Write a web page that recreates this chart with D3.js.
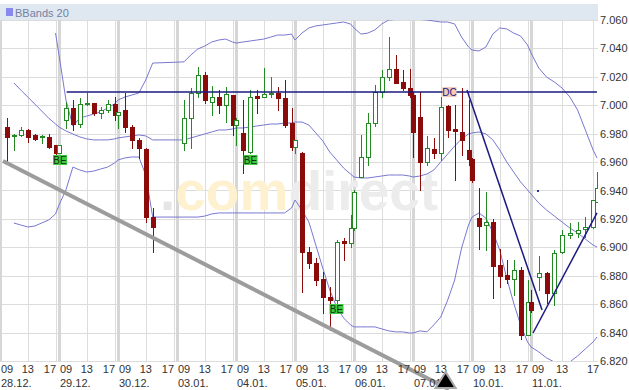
<!DOCTYPE html>
<html>
<head>
<meta charset="utf-8">
<script src="https://cdnjs.cloudflare.com/ajax/libs/d3/7.8.5/d3.min.js"></script>
<style>
  body { margin: 0; background: #fff; }
  svg { display: block; font-family: "Liberation Sans", Arial, sans-serif; }
</style>
</head>
<body>
<svg id="chart"></svg>
<script>
const W = 629, H = 390;

// trading days on the axis, hourly candles (close time), 30.12. closes early
const dayLabels = ["28.12.", "29.12.", "30.12.", "03.01.", "04.01.", "05.01.", "06.01.", "07.01.", "10.01.", "11.01."];
const candlesPerDay = [9, 9, 5, 9, 9, 9, 9, 9, 9, 9];
const sessionHours = [10, 11, 12, 13, 14, 15, 16, 17, 17.5];
const priceTicks = [6.82, 6.84, 6.86, 6.88, 6.90, 6.92, 6.94, 6.96, 6.98, 7.00, 7.02, 7.04, 7.06];

const opens = [
  6.9847, 6.9784, 6.9791, 6.9826, 6.9791, 6.9777, 6.9777, 6.9720, 6.9664,
  6.9896, 6.9981, 6.9868, 7.0009, 7.0016, 6.9946, 6.9967, 7.0009, 6.9932,
  6.9967, 6.9847, 6.9756, 6.9692, 6.9214,
  6.9734, 6.9910, 7.0086, 7.0213, 7.0023, 7.0058, 7.0002, 7.0072, 6.9861,
  6.9805, 6.9671, 7.0065, 7.0058, 7.0079, 7.0086, 7.0051, 6.9875, 6.9706,
  6.9666, 6.8967, 6.8890, 6.8777, 6.8651, 6.8630, 6.9045, 6.9031, 6.9136,
  6.9495, 6.9636, 6.9875, 7.0093, 7.0199, 7.0255, 7.0164, 7.0121, 7.0072,
  6.9917, 6.9601, 6.9692, 6.9664, 6.9995, 6.9833, 6.9812, 6.9685, 6.9622,
  6.9207, 6.9157, 6.9178, 6.8876, 6.8806, 6.8777, 6.8841, 6.8383, 6.8616,
  6.8792, 6.8820, 6.8679, 6.8967, 6.9087, 6.9101, 6.9129, 6.9143, 6.9319
];
const highs = [
  6.9910, 6.9798, 6.9847, 6.9833, 6.9798, 6.9791, 6.9798, 6.9720, 6.9720,
  7.0023, 7.0037, 7.0051, 7.0086, 7.0016, 6.9988, 7.0037, 7.0058, 6.9953,
  7.0086, 6.9861, 6.9770, 6.9699, 6.9277,
  7.0037, 7.0121, 7.0269, 7.0234, 7.0136, 7.0107, 7.0128, 7.0072, 6.9910,
  7.0037, 7.0107, 7.0107, 7.0262, 7.0199, 7.0128, 7.0178, 6.9981, 6.9756,
  6.9671, 6.9003, 6.8925, 6.8827, 6.8721, 6.9052, 6.9066, 6.9228, 6.9404,
  6.9791, 6.9946, 7.0143, 7.0248, 7.0480, 7.0354, 7.0248, 7.0255, 7.0093,
  7.0093, 6.9784, 6.9770, 7.0058, 7.0002, 7.0002, 7.0121, 7.0037, 6.9629,
  6.9418, 6.9390, 6.9200, 6.8989, 6.8911, 6.8911, 6.8862, 6.8770, 6.8700,
  6.8939, 6.8827, 6.8981, 6.9122, 6.9171, 6.9178, 6.9214, 6.9333, 6.9530
];
const lows = [
  6.9594, 6.9685, 6.9784, 6.9742, 6.9756, 6.9735, 6.9699, 6.9636, 6.9664,
  6.9840, 6.9826, 6.9847, 7.0002, 6.9932, 6.9910, 6.9953, 6.9896, 6.9840,
  6.9812, 6.9699, 6.9629, 6.9179, 6.8967,
  6.9685, 6.9699, 7.0058, 7.0016, 6.9932, 6.9946, 6.9882, 6.9791, 6.9720,
  6.9523, 6.9664, 6.9946, 7.0058, 7.0058, 6.9967, 6.9847, 6.9685, 6.9664,
  6.8686, 6.8855, 6.8735, 6.8538, 6.8419, 6.8609, 6.8911, 6.9003, 6.9122,
  6.9495, 6.9580, 6.9854, 7.0058, 7.0178, 7.0157, 7.0107, 7.0058, 6.9636,
  6.9404, 6.9580, 6.9629, 6.9615, 6.9777, 6.9474, 6.9650, 6.9580, 6.9460,
  6.8988, 6.8981, 6.8644, 6.8721, 6.8749, 6.8665, 6.8355, 6.8383, 6.8545,
  6.8700, 6.8609, 6.8594, 6.8960, 6.9066, 6.9073, 6.9073, 6.9136, 6.9319
];
const closes = [
  6.9777, 6.9791, 6.9826, 6.9777, 6.9763, 6.9784, 6.9706, 6.9664, 6.9720,
  6.9981, 6.9868, 7.0009, 7.0016, 6.9946, 6.9967, 7.0009, 6.9932, 6.9953,
  6.9847, 6.9756, 6.9699, 6.9214, 6.9143,
  6.9910, 7.0086, 7.0213, 7.0037, 7.0058, 7.0002, 7.0079, 6.9861, 6.9896,
  6.9685, 7.0058, 7.0051, 7.0079, 7.0086, 7.0051, 6.9861, 6.9706, 6.9756,
  6.8970, 6.8890, 6.8770, 6.8651, 6.8630, 6.9038, 6.9031, 6.9136, 6.9390,
  6.9636, 6.9875, 7.0093, 7.0199, 7.0255, 7.0157, 7.0121, 7.0072, 6.9812,
  6.9601, 6.9699, 6.9664, 6.9988, 6.9826, 6.9819, 6.9756, 6.9622, 6.9474,
  6.9150, 6.9178, 6.8869, 6.8799, 6.8777, 6.8841, 6.8383, 6.8616, 6.8559,
  6.8820, 6.8679, 6.8960, 6.9087, 6.9101, 6.9122, 6.9143, 6.9333, 6.9418
];

// Bollinger bands (20), read per candle; null = not drawn
const bandUpper = [
  null, null, null, null, null, null, null, 7.0508, 7.0354,
  7.0037, 6.9854, 6.9910, 6.9924, 6.9938, 6.9953, 6.9981, 7.0009, 7.0037,
  7.0058, 7.0072, 7.0086, 7.0178, 7.0297,
  7.0305, 7.0354, 7.0396, 7.0417, 7.0445, 7.0459, 7.0466, 7.0445, 7.0438,
  7.0445, 7.0452, 7.0459, 7.0466, 7.0480, 7.0494, 7.0494, 7.0501, 7.0459,
  7.0508, 7.0544, 7.0558, 7.0565, 7.0572, 7.0579, 7.0586, 7.0572, 7.0544,
  7.0501, 7.0508, 7.0530, 7.0572, 7.0600, 7.0604, 7.0604, 7.0604, 7.0604,
  7.0604, 7.0600, 7.0593, 7.0586, 7.0586, 7.0572, 7.0480, 7.0410, 7.0389,
  7.0382, 7.0410, 7.0501, 7.0544, 7.0537, 7.0508, 7.0487, 7.0424, 7.0368,
  7.0262, 7.0199, 7.0164, 7.0121, 7.0058, 6.9967, 6.9826, 6.9685, 6.9629
];
const bandMiddle = [
  null, 7.0157, 7.0107, 7.0058, 7.0009, 6.9960, 6.9910, 6.9868, 6.9847,
  6.9819, 6.9798, 6.9777, 6.9763, 6.9756, 6.9756, 6.9756, 6.9763, 6.9770,
  6.9777, 6.9784, 6.9791, 6.9784, 6.9756,
  6.9756, 6.9770, 6.9784, 6.9798, 6.9812, 6.9826, 6.9826, 6.9833, 6.9840,
  6.9840, 6.9847, 6.9854, 6.9861, 6.9868, 6.9868, 6.9875, 6.9875, 6.9882,
  6.9882, 6.9861, 6.9805, 6.9749, 6.9671, 6.9615, 6.9558, 6.9516, 6.9495,
  6.9488, 6.9488, 6.9495, 6.9502, 6.9509, 6.9509, 6.9509, 6.9502, 6.9495,
  6.9502, 6.9516, 6.9544, 6.9601, 6.9657, 6.9713, 6.9763, 6.9798, 6.9805,
  6.9812, 6.9798, 6.9756, 6.9685, 6.9601, 6.9530, 6.9460, 6.9404, 6.9375,
  6.9312, 6.9263, 6.9220, 6.9178, 6.9136, 6.9101, 6.9058, 6.9016, 6.9002
];
const bandLower = [
  null, 6.9171, 6.9157, 6.9143, 6.9150, 6.9171, 6.9192, 6.9235, 6.9298,
  6.9404, 6.9565, 6.9544, 6.9530, 6.9537, 6.9551, 6.9565, 6.9593, 6.9615,
  6.9629, 6.9636, 6.9636, 6.9509, 6.9213,
  6.9213, 6.9213, 6.9213, 6.9220, 6.9235, 6.9242, 6.9242, 6.9242, 6.9242,
  6.9242, 6.9242, 6.9242, 6.9242, 6.9242, 6.9242, 6.9242, 6.9277, 6.9333,
  6.9263, 6.9178, 6.9016, 6.8854, 6.8700, 6.8580, 6.8503, 6.8454, 6.8440,
  6.8440, 6.8440, 6.8440, 6.8426, 6.8412, 6.8405, 6.8405, 6.8397, 6.8397,
  6.8412, 6.8405, 6.8454, 6.8510, 6.8629, 6.8770, 6.8995, 6.9157, 6.9213,
  6.9242, 6.9206, 6.9108, 6.8981, 6.8784, 6.8608, 6.8454, 6.8334, 6.8299,
  6.8264, 6.8222, 6.8193, 6.8193, 6.8193, 6.8236, 6.8285, 6.8334, 6.8369
];

// drawings: [day, hour, price]
const resistanceLine = [[1, 10.1, 7.0093], [9, 17.5, 7.0093]];
const grayTrend = [[0, 9.43, 6.9608], [7, 14.19, 6.8001]];
const downTrend = [[7, 16.78, 7.0107], [9, 10.42, 6.8559]];
const upTrend = [[9, 9.26, 6.8397], [9, 17.5, 6.9242]];
const signalMarker = [7, 13.7, 6.8060];
const patternLabels = [
  { day: 0, hour: 17.65, price: 6.9615, text: "BE", kind: "be" },
  { day: 4, hour: 11.09, price: 6.9615, text: "BE", kind: "be" },
  { day: 5, hour: 14.98, price: 6.8566, text: "BE", kind: "be" },
  { day: 7, hour: 14.26, price: 7.0093, text: "DC", kind: "dc" }
];

const svg = d3.select("#chart").attr("width", W).attr("height", H);
svg.append("rect").attr("width", W).attr("height", H).attr("fill", "#fff");

const tOf = (d, h) => d * 8.5 + (h - 9);
const x = d3.scaleLinear().domain([0, 76.5, 85]).range([0, 531, 597]);
const y = d3.scaleLinear().domain([6.82, 7.06]).range([361, 20]);
const plotRight = 598, plotTop = 4, plotBottom = 361;

// candle times
const candleT = [];
candlesPerDay.forEach((n, d) => sessionHours.slice(0, n).forEach(h => candleT.push(tOf(d, h))));

svg.append("defs").append("clipPath").attr("id", "plotclip")
  .append("rect").attr("x", 0).attr("y", plotTop).attr("width", plotRight).attr("height", plotBottom - plotTop);

// grid
const grid = svg.append("g");
grid.selectAll(".hg").data(priceTicks).enter().append("line")
  .attr("x1", 0).attr("x2", plotRight)
  .attr("y1", d => Math.round(y(d)) + 0.5).attr("y2", d => Math.round(y(d)) + 0.5)
  .attr("stroke", "#dcdcdc");
dayLabels.forEach((lab, d) => {
  [9, 13, 17].forEach(h => {
    const px = Math.round(x(tOf(d, h)));
    grid.append("line")
      .attr("x1", px + 0.5).attr("x2", px + 0.5)
      .attr("y1", plotTop).attr("y2", plotBottom)
      .attr("stroke", h === 9 ? "#d6d6d6" : "#dcdcdc")
      .attr("stroke-width", h === 9 ? 3 : 1);
  });
});

// watermark
const wm = svg.append("text").attr("x", 160).attr("y", 210)
  .attr("font-size", 55).attr("font-weight", "bold");
wm.append("tspan").attr("fill", "#e6e6e6").text(".");
wm.append("tspan").attr("fill", "#fdf1d0").text("com");
wm.append("tspan").attr("fill", "#ececec").text("direct");

const plotG = svg.append("g").attr("clip-path", "url(#plotclip)");

// bollinger bands
const bandLine = d3.line()
  .defined(d => d[1] != null)
  .x(d => x(d[0])).y(d => y(d[1]));
[bandUpper, bandMiddle, bandLower].forEach(band => {
  plotG.append("path")
    .datum(band.map((v, i) => [candleT[i], v]))
    .attr("d", bandLine)
    .attr("fill", "none").attr("stroke", "#7878d2").attr("stroke-width", 1);
});

// gray long-term trend line (runs past the plot bottom)
const drawLine = d3.line().x(d => x(tOf(d[0], d[1]))).y(d => y(d[2]));
svg.append("path").datum(grayTrend).attr("d", drawLine)
  .attr("stroke", "#9c9c9c").attr("stroke-width", 4).attr("fill", "none");

// candles
const candles = plotG.append("g");
candleT.forEach((t, i) => {
  const cx = Math.round(x(t));
  const up = closes[i] >= opens[i];
  const col = up ? "#238a23" : "#8b0a0a";
  candles.append("line")
    .attr("x1", cx + 0.5).attr("x2", cx + 0.5)
    .attr("y1", Math.round(y(highs[i]))).attr("y2", Math.round(y(lows[i])) + 1)
    .attr("stroke", col);
  const top = Math.round(y(Math.max(opens[i], closes[i])));
  const bot = Math.round(y(Math.min(opens[i], closes[i])));
  candles.append("rect")
    .attr("x", cx - 1.5).attr("y", top + 0.5)
    .attr("width", 4).attr("height", Math.max(1, bot - top))
    .attr("fill", up ? "#fff" : col).attr("stroke", col);
});

// navy drawings
[resistanceLine, downTrend, upTrend].forEach(l => {
  plotG.append("path").datum(l).attr("d", drawLine)
    .attr("stroke", "#1a1a80").attr("stroke-width", 1.5).attr("fill", "none");
});
svg.append("rect").attr("x", 537).attr("y", 190).attr("width", 2).attr("height", 2).attr("fill", "#3030a0");

// pattern labels
patternLabels.forEach(p => {
  const px = x(tOf(p.day, p.hour)), py = y(p.price);
  const g = svg.append("g").attr("transform", `translate(${px},${py})`);
  g.append("rect").attr("x", -7).attr("y", -5).attr("width", 14).attr("height", 10)
    .attr("fill", p.kind === "be" ? "#3ec93e" : "#f6c8b6");
  g.append("text").attr("y", 4).attr("text-anchor", "middle")
    .attr("font-size", 10).attr("fill", p.kind === "be" ? "#113311" : "#1a1a80")
    .text(p.text);
});

// header strip
svg.append("rect").attr("x", 0).attr("y", plotTop).attr("width", plotRight).attr("height", 16).attr("fill", "#dfe7f1");
svg.append("rect").attr("x", 6).attr("y", 8).attr("width", 7).attr("height", 8).attr("fill", "#8888ee");
svg.append("text").attr("x", 15).attr("y", 16.5).attr("font-size", 11).attr("fill", "#7282a4").text("BBands 20");

// y axis labels
svg.selectAll(".ylab").data(priceTicks).enter().append("text")
  .attr("x", 600).attr("y", d => y(d) + 4)
  .attr("font-size", 11).attr("fill", "#333")
  .text(d3.format(".3f"));

// x axis labels
const xl = svg.append("g").attr("font-size", 11).attr("fill", "#333");
dayLabels.forEach((lab, d) => {
  const last = d === dayLabels.length - 1;
  xl.append("text").attr("x", x(tOf(d, 9)) + 1).attr("y", 373).text("09");
  xl.append("text").attr("x", x(tOf(d, 13))).attr("y", 373).attr("text-anchor", "middle").text("13");
  xl.append("text").attr("x", x(tOf(d, 17)) + (last ? 0 : 0.5)).attr("y", 373)
    .attr("text-anchor", last ? "middle" : "end").text("17");
  xl.append("text").attr("x", x(tOf(d, 9)) + 1).attr("y", 387).text(lab);
});

// signal marker on the gray trend line
const mx = x(tOf(signalMarker[0], signalMarker[1])), my = y(signalMarker[2]);
svg.append("path")
  .attr("d", `M${mx},${my - 9}L${mx + 10},${my + 7}L${mx - 10},${my + 7}Z`)
  .attr("fill", "#000").attr("stroke", "#a8a8a8").attr("stroke-width", 2);
</script>
</body>
</html>
